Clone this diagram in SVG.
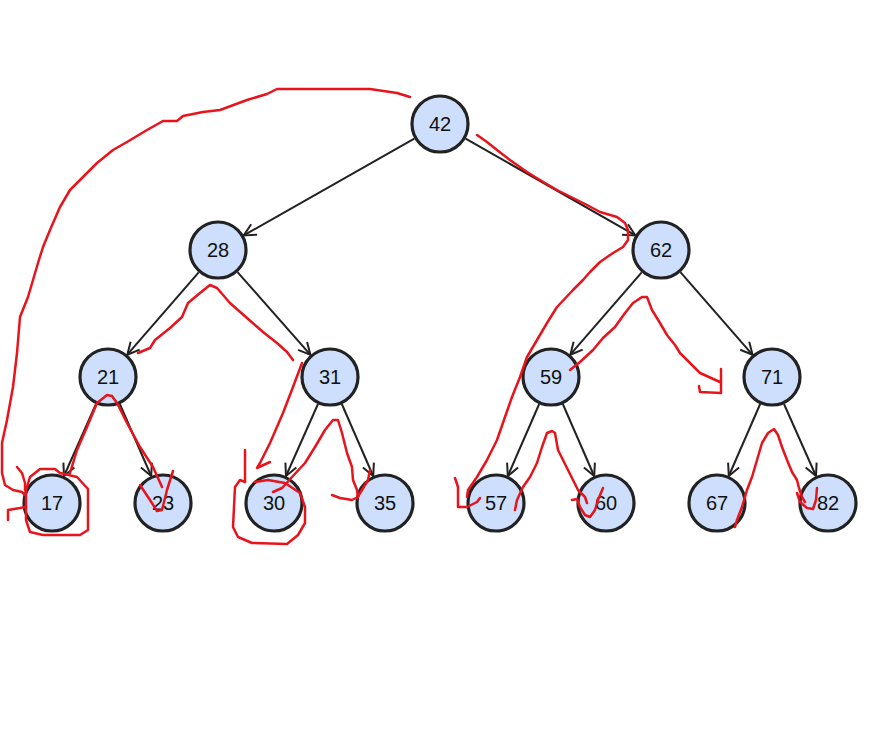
<svg xmlns="http://www.w3.org/2000/svg" width="880" height="752" viewBox="0 0 880 752">
<defs>
<marker id="arr" viewBox="0 0 14 14" refX="13" refY="7" markerWidth="14" markerHeight="14" markerUnits="userSpaceOnUse" orient="auto">
<path d="M1,1 L13,7 L1,13" fill="none" stroke="#222" stroke-width="2"/>
</marker>
</defs>
<style>
.edge{stroke:#222;stroke-width:2;fill:none;marker-end:url(#arr)}
.node circle{fill:#cddffc;stroke:#222;stroke-width:3.2}
.node text{font-family:"Liberation Sans",Arial,sans-serif;font-size:20px;fill:#111;text-anchor:middle;dominant-baseline:central}
.red{fill:none;stroke:#e8141c;stroke-width:2.5;stroke-linecap:round;stroke-linejoin:round}
</style>
<rect width="880" height="752" fill="#fff"/>
<g id="connectors">
<line class="edge" x1="414.3" y1="138.6" x2="243.7" y2="235.4"/>
<line class="edge" x1="465.6" y1="138.6" x2="635.4" y2="235.4"/>
<line class="edge" x1="198.7" y1="272.3" x2="127.3" y2="354.7"/>
<line class="edge" x1="237.5" y1="272.1" x2="310.5" y2="354.9"/>
<line class="edge" x1="641.7" y1="272.3" x2="570.3" y2="354.7"/>
<line class="edge" x1="680.4" y1="272.2" x2="752.6" y2="354.8"/>
<line class="edge" x1="96" y1="404" x2="64" y2="476"/>
<line class="edge" x1="119.8" y1="404" x2="151.2" y2="476"/>
<line class="edge" x1="318" y1="404" x2="286" y2="476"/>
<line class="edge" x1="341.8" y1="404" x2="373.2" y2="476"/>
<line class="edge" x1="539.2" y1="404" x2="507.8" y2="476"/>
<line class="edge" x1="562.8" y1="404" x2="594.2" y2="476"/>
<line class="edge" x1="760.2" y1="404" x2="728.8" y2="476"/>
<line class="edge" x1="784" y1="404" x2="816" y2="476"/>
</g>
<g id="n42" class="node"><circle cx="440" cy="124" r="28"/><text x="440" y="124">42</text></g>
<g id="n28" class="node"><circle cx="218" cy="250" r="28"/><text x="218" y="250">28</text></g>
<g id="n62" class="node"><circle cx="661" cy="250" r="28"/><text x="661" y="250">62</text></g>
<g id="n21" class="node"><circle cx="108" cy="377" r="28"/><text x="108" y="377">21</text></g>
<g id="n31" class="node"><circle cx="330" cy="377" r="28"/><text x="330" y="377">31</text></g>
<g id="n59" class="node"><circle cx="551" cy="377" r="28"/><text x="551" y="377">59</text></g>
<g id="n71" class="node"><circle cx="772" cy="377" r="28"/><text x="772" y="377">71</text></g>
<g id="n17" class="node"><circle cx="52" cy="503" r="28"/><text x="52" y="503">17</text></g>
<g id="n23" class="node"><circle cx="163" cy="503" r="28"/><text x="163" y="503">23</text></g>
<g id="n30" class="node"><circle cx="274" cy="503" r="28"/><text x="274" y="503">30</text></g>
<g id="n35" class="node"><circle cx="385" cy="503" r="28"/><text x="385" y="503">35</text></g>
<g id="n57" class="node"><circle cx="496" cy="503" r="28"/><text x="496" y="503">57</text></g>
<g id="n60" class="node"><circle cx="606" cy="503" r="28"/><text x="606" y="503">60</text></g>
<g id="n67" class="node"><circle cx="717" cy="503" r="28"/><text x="717" y="503">67</text></g>
<g id="n82" class="node"><circle cx="828" cy="503" r="28"/><text x="828" y="503">82</text></g>
<g id="annotations">
<path class="red" d="M410,97 L397,93 L370,89 L277,89 L267,94 L247,100 L220,110 L203,112 L183,116 L177,121 L163,121 L147,130 L127,142 L113,150 L97,163 L83,177 L70,190 L60,207 L50,230 L43,247 L38,263 L33,280 L28,297 L20,317 L17,353 L13,387 L7,420 L2,443 L2,473 L5,485 L13,490 L22,492 L25,495"/>
<path class="red" d="M8,520 L8,510 L20,508 L25,507"/>
<path class="red" d="M17,467 L22,473 L25,483 L25,490"/>
<path class="red" d="M30,477 L40,469 L55,469 L60,473 L77,477 L88,489 L88,530 L80,535 L43,535 L30,532 L26,520 L26,490 Z"/>
<path class="red" d="M70,473 L77,450 L87,427 L97,403 L107,395 L112,396 L117,403 L127,423 L140,447 L153,467 L162,487"/>
<path class="red" d="M140,485 L150,500 L157,511 L162,510 L167,490 L173,471"/>
<path class="red" d="M138,353 L150,348 L155,340 L170,328 L182,317 L188,303 L200,293 L210,285 L217,288 L230,303 L247,318 L263,332 L277,343 L287,352 L293,360"/>
<path class="red" d="M302,363 L293,387 L283,413 L270,443 L260,463 L257,468 L270,462"/>
<path class="red" d="M245,450 L245,482"/>
<path class="red" d="M245,482 L240,480 L235,487 L233,527 L238,537 L252,543 L287,544 L298,535 L305,523 L305,507 L300,493 L285,483 L268,480 L255,482"/>
<path class="red" d="M273,492 L282,488 L292,477 L305,463 L315,447 L325,430 L333,420 L338,420 L342,433 L347,453 L352,467 L353,480 L357,490 L358,497 L352,500 L340,498 L332,495"/>
<path class="red" d="M357,498 L362,490 L368,480 L370,470"/>
<path class="red" d="M477,135 L487,142 L497,150 L510,160 L527,172 L540,180 L557,190 L573,198 L587,205 L600,212 L617,217 L625,223 L628,230 L628,240 L623,247 L613,253 L600,262 L590,272 L583,280 L573,290 L557,307 L547,323 L537,340 L527,357 L520,377 L512,397 L505,417 L497,440 L487,460 L477,477 L468,490 L467,497"/>
<path class="red" d="M455,478 L458,487 L458,507 L467,507 L477,502 L480,498"/>
<path class="red" d="M515,510 L517,500 L523,487 L530,477 L537,463 L542,447 L547,433 L552,431 L555,433 L558,450 L563,460 L568,470 L573,480 L578,490 L585,497 L587,503"/>
<path class="red" d="M572,500 L577,499 L580,507 L585,515 L590,517 L595,510 L598,500 L603,488"/>
<path class="red" d="M570,370 L580,362 L593,350 L603,338 L615,327 L625,313 L633,303 L642,297 L647,297 L652,310 L660,323 L667,335 L675,345 L680,353 L690,363 L700,373 L720,382"/>
<path class="red" d="M721,369 L721,393 L700,392 L699,386"/>
<path class="red" d="M735,527 L737,520 L742,507 L747,490 L752,477 L757,460 L762,443 L768,433 L774,429 L778,435 L782,447 L787,460 L792,472 L797,480 L799,488 L802,497 L805,502"/>
<path class="red" d="M797,493 L800,502 L807,508 L813,509 L816,500 L817,488"/>
</g>
</svg>
